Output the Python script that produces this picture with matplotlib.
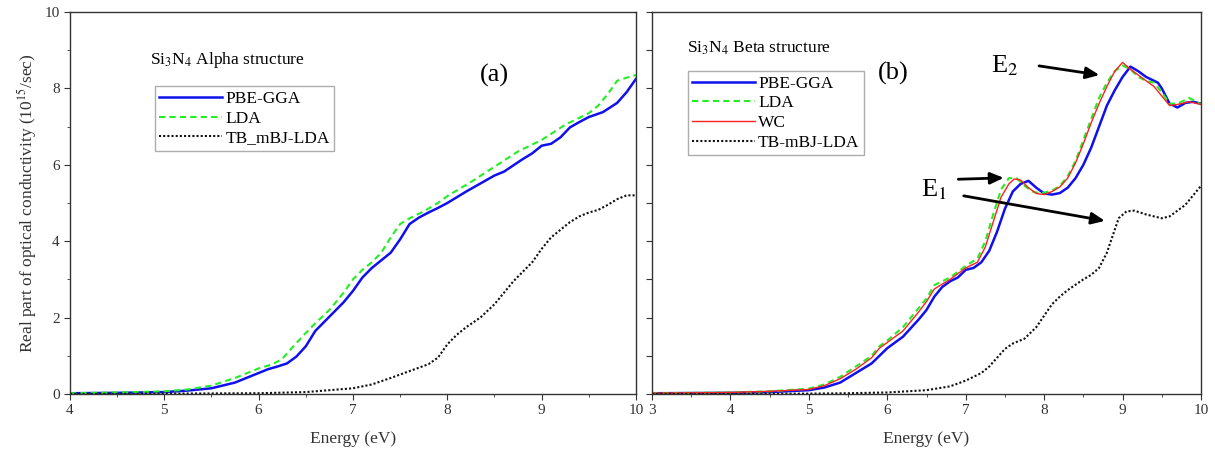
import matplotlib
matplotlib.use("Agg")
import matplotlib.pyplot as plt
from matplotlib.ticker import MultipleLocator

plt.rcParams['font.family'] = ['Liberation Serif', 'DejaVu Serif']
plt.rcParams['mathtext.fontset'] = 'stix'

# ---- panel (a): alpha structure ----
a_pbe_x = [4.0, 4.5, 5.0, 5.25, 5.5, 5.75, 6.0, 6.1, 6.2, 6.3, 6.4, 6.5, 6.6, 6.7, 6.8, 6.9, 7.0,
           7.1, 7.2, 7.3, 7.4, 7.5, 7.6, 7.7, 7.8, 7.9, 8.0, 8.2, 8.4, 8.5, 8.6, 8.8, 8.9, 9.0,
           9.1, 9.2, 9.3, 9.4, 9.5, 9.65, 9.8, 9.9, 10.0]
a_pbe_y = [0.02, 0.03, 0.05, 0.09, 0.15, 0.3, 0.55, 0.65, 0.72, 0.8, 0.98, 1.25, 1.65, 1.9, 2.15,
           2.4, 2.7, 3.05, 3.3, 3.5, 3.7, 4.05, 4.45, 4.62, 4.75, 4.87, 5.0, 5.3, 5.58, 5.72, 5.82,
           6.15, 6.3, 6.5, 6.55, 6.72, 6.98, 7.12, 7.25, 7.38, 7.62, 7.9, 8.25]

a_lda_x = [4.0, 4.5, 5.0, 5.25, 5.5, 5.75, 6.0, 6.15, 6.25, 6.35, 6.5, 6.6, 6.75, 6.9, 7.0, 7.1,
           7.2, 7.3, 7.4, 7.5, 7.6, 7.75, 7.9, 8.0, 8.25, 8.5, 8.75, 9.0, 9.25, 9.5, 9.6, 9.7,
           9.8, 9.9, 10.0]
a_lda_y = [0.02, 0.04, 0.07, 0.12, 0.22, 0.42, 0.67, 0.78, 0.92, 1.2, 1.6, 1.85, 2.2, 2.65, 3.0,
           3.25, 3.45, 3.7, 4.1, 4.45, 4.6, 4.78, 5.0, 5.18, 5.55, 5.95, 6.35, 6.65, 7.05, 7.35,
           7.55, 7.85, 8.2, 8.28, 8.35]

a_mbj_x = [4.0, 5.0, 6.0, 6.5, 7.0, 7.2, 7.4, 7.6, 7.8, 7.9, 8.0, 8.1, 8.2, 8.35, 8.5, 8.6, 8.7,
           8.8, 8.9, 9.0, 9.1, 9.2, 9.3, 9.4, 9.5, 9.6, 9.7, 9.8, 9.9, 10.0]
a_mbj_y = [0.0, 0.01, 0.02, 0.05, 0.15, 0.25, 0.42, 0.6, 0.78, 0.95, 1.3, 1.55, 1.75, 2.0, 2.35,
           2.65, 2.95, 3.2, 3.45, 3.8, 4.1, 4.3, 4.5, 4.65, 4.75, 4.82, 4.95, 5.1, 5.2, 5.2]

# ---- panel (b): beta structure ----
b_pbe_x = [3.0, 4.0, 4.5, 5.0, 5.2, 5.4, 5.6, 5.8, 5.9, 6.0, 6.2, 6.4, 6.5, 6.6, 6.7, 6.8, 6.9,
           7.0, 7.1, 7.2, 7.3, 7.4, 7.5, 7.6, 7.7, 7.8, 7.9, 8.0, 8.1, 8.2, 8.3, 8.4, 8.5, 8.6,
           8.7, 8.8, 8.9, 9.0, 9.1, 9.2, 9.3, 9.45, 9.5, 9.6, 9.7, 9.8, 9.9, 10.0]
b_pbe_y = [0.02, 0.03, 0.05, 0.1, 0.17, 0.3, 0.55, 0.8, 1.0, 1.2, 1.5, 1.95, 2.2, 2.55, 2.8,
           2.95, 3.05, 3.25, 3.3, 3.45, 3.75, 4.25, 4.85, 5.3, 5.5, 5.58, 5.4, 5.25, 5.22, 5.26,
           5.4, 5.65, 6.0, 6.45, 7.0, 7.55, 7.95, 8.3, 8.57, 8.45, 8.3, 8.15, 8.0, 7.6, 7.5,
           7.62, 7.65, 7.6]

b_lda_x = [3.0, 4.0, 4.5, 5.0, 5.2, 5.4, 5.6, 5.8, 5.9, 6.0, 6.2, 6.4, 6.5, 6.6, 6.8, 6.9, 7.0,
           7.15, 7.25, 7.35, 7.45, 7.55, 7.65, 7.75, 7.85, 7.95, 8.1, 8.2, 8.3, 8.4, 8.5, 8.6,
           8.7, 8.8, 8.9, 9.0, 9.1, 9.2, 9.3, 9.4, 9.5, 9.6, 9.7, 9.85, 10.0]
b_lda_y = [0.02, 0.04, 0.07, 0.14, 0.25, 0.45, 0.72, 1.0, 1.25, 1.4, 1.75, 2.25, 2.5, 2.85,
           3.05, 3.2, 3.35, 3.55, 4.0, 4.7, 5.35, 5.65, 5.65, 5.45, 5.3, 5.25, 5.32, 5.45, 5.7,
           6.1, 6.65, 7.2, 7.75, 8.15, 8.45, 8.6, 8.5, 8.3, 8.2, 8.15, 7.9, 7.6, 7.6, 7.75,
           7.58]

b_wc_x = [3.0, 4.0, 4.5, 5.0, 5.2, 5.4, 5.6, 5.8, 5.9, 6.0, 6.2, 6.4, 6.5, 6.6, 6.8, 6.9, 7.0,
          7.15, 7.25, 7.35, 7.45, 7.55, 7.62, 7.7, 7.8, 7.9, 8.0, 8.1, 8.2, 8.3, 8.4, 8.5, 8.6,
          8.7, 8.8, 8.9, 9.0, 9.1, 9.2, 9.3, 9.4, 9.5, 9.6, 9.7, 9.85, 10.0]
b_wc_y = [0.02, 0.04, 0.07, 0.12, 0.22, 0.4, 0.65, 0.95, 1.2, 1.35, 1.65, 2.15, 2.42, 2.75,
          3.0, 3.15, 3.3, 3.45, 3.85, 4.5, 5.15, 5.5, 5.63, 5.6, 5.4, 5.25, 5.22, 5.3, 5.42,
          5.65, 6.05, 6.55, 7.1, 7.6, 8.05, 8.45, 8.68, 8.5, 8.35, 8.2, 8.05, 7.8, 7.55, 7.58,
          7.65, 7.58]

b_mbj_x = [3.0, 4.0, 5.0, 5.5, 6.0, 6.5, 6.8, 7.0, 7.2, 7.3, 7.4, 7.5, 7.6, 7.75, 7.9, 8.0,
           8.1, 8.2, 8.3, 8.5, 8.6, 8.7, 8.8, 8.9, 8.95, 9.05, 9.15, 9.3, 9.5, 9.6, 9.7, 9.8,
           9.9, 10.0]
b_mbj_y = [0.0, 0.0, 0.01, 0.02, 0.04, 0.1, 0.2, 0.35, 0.55, 0.72, 0.95, 1.18, 1.32, 1.45,
           1.75, 2.05, 2.35, 2.55, 2.72, 3.0, 3.12, 3.3, 3.7, 4.3, 4.6, 4.78, 4.8, 4.7, 4.6,
           4.65, 4.8, 4.95, 5.2, 5.45]


def style_axes(ax, xmin):
    ax.set_xlim(xmin, 10)
    ax.set_ylim(0, 10)
    ax.xaxis.set_major_locator(MultipleLocator(1))
    ax.xaxis.set_minor_locator(MultipleLocator(0.5))
    ax.yaxis.set_major_locator(MultipleLocator(2))
    ax.yaxis.set_minor_locator(MultipleLocator(1))
    ax.tick_params(which='major', direction='out', length=4, labelsize=11, colors='#333333')
    ax.tick_params(which='minor', direction='out', length=2.5, colors='#333333')
    for s in ax.spines.values():
        s.set_color('#333333')
        s.set_linewidth(1.0)
    ax.set_xlabel('Energy (eV)', fontsize=12.5, color='#333333', labelpad=10)


leg_kw = dict(loc='upper left', fontsize=12.5, frameon=True, fancybox=False,
              edgecolor='#999999', handlelength=3.6, handletextpad=0.2, borderpad=0.25,
              labelspacing=0.2, borderaxespad=0)

fig = plt.figure(figsize=(12.15, 4.59), dpi=100)
ax1 = fig.add_axes([70 / 1215, 65 / 459, 566 / 1215, 382 / 459])
ax2 = fig.add_axes([652 / 1215, 65 / 459, 549 / 1215, 382 / 459])

ax1.plot(a_pbe_x, a_pbe_y, color='#1010ee', lw=1.8, label='PBE-GGA')
ax1.plot(a_lda_x, a_lda_y, color='#22ee22', lw=1.5, ls=(0, (3, 2)), label='LDA')
ax1.plot(a_mbj_x, a_mbj_y, color='#111111', lw=1.5, ls=(0, (1, 1)), label='TB_mBJ-LDA')
style_axes(ax1, 4)
ax1.set_ylabel('Real part of optical conductivity (10$^{15}$/sec)', fontsize=12.5,
               color='#333333')
ax1.text(4.85, 8.74, 'Si$_3$N$_4$ Alpha structure', fontsize=12.5, va='center')
ax1.text(8.5, 8.35, '(a)', fontsize=19, ha='center', va='center')
ax1.legend(bbox_to_anchor=(0.15, 0.805), **leg_kw)

ax2.plot(b_pbe_x, b_pbe_y, color='#1010ee', lw=1.8, label='PBE-GGA')
ax2.plot(b_lda_x, b_lda_y, color='#22ee22', lw=1.5, ls=(0, (3, 2)), label='LDA')
ax2.plot(b_wc_x, b_wc_y, color='#ff2020', lw=1.0, label='WC')
ax2.plot(b_mbj_x, b_mbj_y, color='#111111', lw=1.5, ls=(0, (1, 1)), label='TB-mBJ-LDA')
style_axes(ax2, 3)
ax2.yaxis.set_major_locator(MultipleLocator(1))
ax2.set_yticklabels([])
ax2.text(3.45, 9.06, 'Si$_3$N$_4$ Beta structure', fontsize=12.5, va='center')
ax2.text(6.07, 8.4, '(b)', fontsize=19, ha='center', va='center')
ax2.legend(bbox_to_anchor=(0.065, 0.845), **leg_kw)

arrow = dict(arrowstyle='-|>,head_length=0.8,head_width=0.35', color='black', lw=2)
ax2.text(7.5, 8.6, 'E$_2$', fontsize=19, ha='center', va='center')
ax2.annotate('', xy=(8.74, 8.34), xytext=(7.9, 8.6), arrowprops=arrow)
ax2.text(6.6, 5.34, 'E$_1$', fontsize=19, ha='center', va='center')
ax2.annotate('', xy=(7.52, 5.66), xytext=(6.87, 5.62), arrowprops=arrow)
ax2.annotate('', xy=(8.81, 4.52), xytext=(6.94, 5.2), arrowprops=arrow)

fig.savefig('out.png', dpi=100)
